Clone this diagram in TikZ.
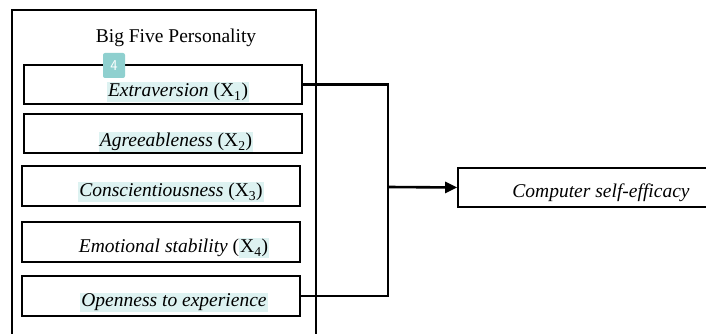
\documentclass[tikz,border=0pt]{standalone}
\usepackage{fontspec}
\setmainfont{Liberation Serif}
\usetikzlibrary{arrows.meta}
\definecolor{hlc}{HTML}{DDF2F1}
\definecolor{badge}{HTML}{8FD0CF}
\newcommand\hlt[1]{{\setlength{\fboxsep}{1pt}\colorbox{hlc}{#1}}}
\tikzset{
  fbox/.style={draw, line width=1.6pt, minimum width=278pt, minimum height=39pt, inner sep=0pt},
  lbl/.style={anchor=base, inner sep=0pt, font=\fontsize{19.5}{22}\selectfont},
  conn/.style={line width=2.6pt},
}
\begin{document}
\begin{tikzpicture}[x=1pt,y=1pt]
\useasboundingbox (0,0) rectangle (706,334);
\clip (0,0) rectangle (706,334);
\fill[white] (0,0) rectangle (706,334);
% outer frame
\node[draw, line width=1.3pt, minimum width=304pt, minimum height=340pt, inner sep=0pt] (outer) at (164,154) {};
\node[lbl] (title) at (176,291) {Big Five Personality};
% factor boxes
\node[fbox] (b1) at (163,249.5) {};
\node[fbox] (b2) at (163,200.5) {};
\node[fbox, minimum height=40pt] (b3) at (161,148) {};
\node[fbox, minimum height=40pt] (b4) at (161,92) {};
\node[fbox, minimum height=40pt] (b5) at (161,38) {};
% labels
\node[lbl] (t1) at (178,237) {\hlt{\textit{Extraversion} (X\textsubscript{1})}};
\node[lbl] (t2) at (176,187) {\hlt{\textit{Agreeableness} (X\textsubscript{2})}};
\node[lbl] (t3) at (171,137) {\hlt{\textit{Conscientiousness} (X\textsubscript{3})}};
\node[lbl] (t4) at (174,81) {\textit{Emotional stability} (\hlt{X\textsubscript{4})}};
\node[lbl] (t5) at (174,27) {\hlt{\textit{Openness to experience}}};
% badge
\node[fill=badge, rounded corners=2pt, minimum width=22pt, minimum height=25pt, inner sep=0pt, text=white, font=\sffamily\fontsize{15}{15}\selectfont] (badge4) at (114,268.5) {4};
% outcome
\node[draw, line width=1.6pt, minimum width=254pt, minimum height=39pt, inner sep=0pt] (cse) at (585,146.5) {};
\node[lbl] (tc) at (601,136) {\textit{Computer self-efficacy}};
% connectors
\coordinate (j) at (388,147);
\draw[conn] (b1.east) -| (j) |- (b5.east);
\draw[conn, -{Triangle[length=12pt,width=11pt]}] (j) -- (cse.west);
\end{tikzpicture}
\end{document}
